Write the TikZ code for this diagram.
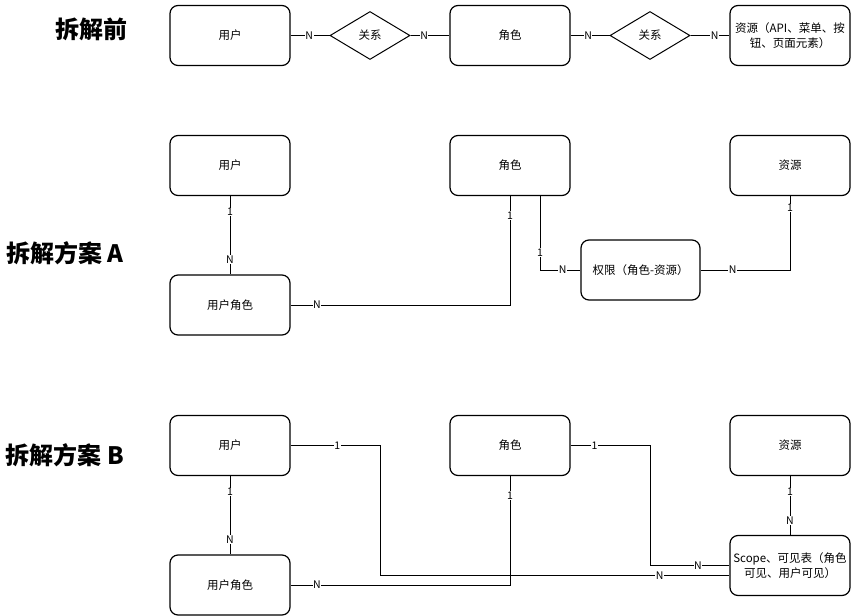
\documentclass[tikz,border=0pt]{standalone}
\usepackage{fontspec}
\setmainfont{Noto Sans CJK SC}
\usepackage{tikz}
\usetikzlibrary{shapes.geometric, arrows.meta, positioning, calc}

\begin{document}
\begin{tikzpicture}[
    x=1pt, y=-1pt,
    entity/.style={draw, line width=1.2pt, rounded corners=8pt, minimum width=120pt, minimum height=60pt, font=\fontsize{11.5}{15}\selectfont, align=center, inner sep=0.5pt},
    relation/.style={draw, line width=1pt, diamond, aspect=1.67, minimum width=80pt, minimum height=48pt, inner sep=0pt, font=\fontsize{11.5}{15}\selectfont},
    card/.style={fill=white, inner sep=0.5pt, font=\fontsize{10.5}{12}\selectfont},
    title/.style={font=\fontsize{24}{28}\selectfont\bfseries},
    link/.style={line width=1pt}
]
    \useasboundingbox (0,0) rectangle (852,616);

    % Titles
    \node[title] (t1) at (91,29) {拆解前};
    \node[title] (t2) at (65,253) {拆解方案 A};
    \node[title] (t3) at (65,455) {拆解方案 B};

    % Before
    \node[entity] (u1) at (230,35.5) {用户};
    \node[relation] (rel1) at (370,35.5) {关系};
    \node[entity] (r1) at (510,35.5) {角色};
    \node[relation] (rel2) at (650,35.5) {关系};
    \node[entity] (res1) at (790,35.5) {资源（API、菜单、按\\钮、页面元素）};

    \draw[link] (u1) -- node[card, pos=0.48] {N} (rel1);
    \draw[link] (rel1) -- node[card, pos=0.35] {N} (r1);
    \draw[link] (r1) -- node[card, pos=0.45] {N} (rel2);
    \draw[link] (rel2) -- node[card, pos=0.62] {N} (res1);

    % Plan A
    \node[entity] (u2) at (230,165.5) {用户};
    \node[entity] (ur2) at (230,305) {用户角色};
    \node[entity] (r2) at (510,165.5) {角色};
    \node[entity] (res2) at (790,165.5) {资源};
    \node[entity, minimum width=119pt] (perm) at (640.5,270) {权限（角色-资源）};

    \draw[link] (u2) -- node[card, pos=0.2] {1} node[card, pos=0.81] {N} (ur2);
    \draw[link] (r2.south) |- node[card, pos=0.09] {1} node[card, pos=0.94] {N} (ur2.east);
    \draw[link] ([xshift=30pt]r2.south) |- node[card, pos=0.38] {1} node[card, pos=0.78] {N} (perm.west);
    \draw[link] (res2.south) |- node[card, pos=0.08] {1} node[card, pos=0.82] {N} (perm.east);

    % Plan B
    \node[entity] (u3) at (230,445.5) {用户};
    \node[entity] (ur3) at (230,585) {用户角色};
    \node[entity] (r3) at (510,445.5) {角色};
    \node[entity] (res3) at (790,445.5) {资源};
    \node[entity] (scope) at (790,565.5) {Scope、可见表（角色\\可见、用户可见）};

    \draw[link] (u3) -- node[card, pos=0.2] {1} node[card, pos=0.81] {N} (ur3);
    \draw[link] (r3.south) |- node[card, pos=0.09] {1} node[card, pos=0.94] {N} (ur3.east);
    \draw[link] (res3) -- node[card, pos=0.27] {1} node[card, pos=0.75] {N} (scope);
    \draw[link] (u3.east) -- node[card, pos=0.52] {1} ++(90,0) |- node[card, pos=0.9] {N} ([yshift=-10pt]scope.west);
    \draw[link] (r3.east) -- node[card, pos=0.3] {1} ++(80,0) |- node[card, pos=0.8] {N} (scope.west);
\end{tikzpicture}
\end{document}
